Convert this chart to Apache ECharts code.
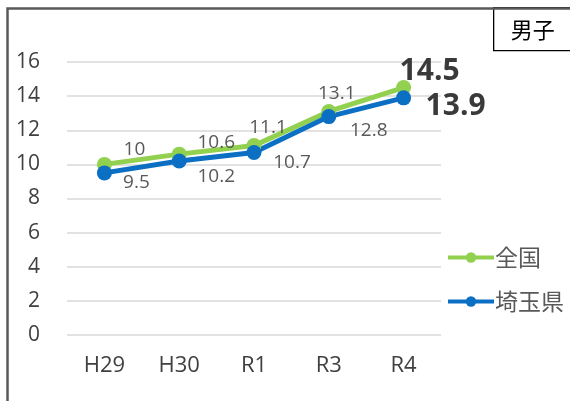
<!DOCTYPE html>
<html>
<head>
<meta charset="utf-8">
<script src="https://cdn.jsdelivr.net/npm/echarts@6/dist/echarts.min.js"></script>
<style>html,body{margin:0;padding:0;background:#fff;}#c{width:570px;height:401px;}</style>
</head>
<body>
<div id="c"></div>
<script>
const categories = ['H29', 'H30', 'R1', 'R3', 'R4'];
const nationalValues = [10, 10.6, 11.1, 13.1, 14.5];
const saitamaValues = [9.5, 10.2, 10.7, 12.8, 13.9];
const seriesNames = ['全国', '埼玉県'];
const yTicks = { min: 0, max: 16, interval: 2 };
const boxTitle = '男子';

// label placement (style only)
const nationalOffsets = [[30, -15], [37, -12], [14, -18], [8, -18], [26, -16]];
const saitamaOffsets = [[32, 10], [37, 16], [38, 10], [40, 14], [52, 9]];

const font = '"Open Sans", "Noto Sans", sans-serif';
const cjk = '"Noto Sans CJK JP", sans-serif';

function buildData(values, offsets) {
  const last = values.length - 1;
  return values.map((v, i) => ({
    value: v,
    label: i === last ? {
      offset: offsets[i], fontSize: 30, fontWeight: 'bold', color: '#3a3a3a'
    } : { offset: offsets[i] }
  }));
}

const chart = echarts.init(document.getElementById('c'), null, { renderer: 'canvas' });
chart.setOption({
  animation: false,
  backgroundColor: '#fff',
  grid: { left: 67, right: 129, top: 62, bottom: 66, containLabel: false },
  xAxis: {
    type: 'category',
    data: categories,
    boundaryGap: true,
    axisLine: { show: false },
    axisTick: { show: false },
    axisLabel: { fontSize: 22, color: '#404040', fontFamily: font, margin: 20 }
  },
  yAxis: {
    type: 'value',
    min: yTicks.min, max: yTicks.max, interval: yTicks.interval,
    axisLine: { show: false },
    axisTick: { show: false },
    axisLabel: { fontSize: 21, color: '#404040', fontFamily: font, margin: 27 },
    splitLine: { lineStyle: { color: '#d9d9d9', width: 1.5 } }
  },
  legend: {
    orient: 'vertical',
    left: 441, top: 241,
    itemWidth: 46, itemHeight: 13, itemGap: 21,
    lineStyle: { width: 4 },
    textStyle: { fontSize: 23, color: '#595959', fontFamily: cjk, padding: [0, 0, 0, -4] },
    data: seriesNames
  },
  series: [
    {
      name: seriesNames[0], type: 'line',
      data: buildData(nationalValues, nationalOffsets),
      symbol: 'circle', symbolSize: 15,
      lineStyle: { color: '#92D050', width: 5 },
      itemStyle: { color: '#92D050' },
      label: { show: true, position: 'inside', fontSize: 19, color: '#595959', fontFamily: font }
    },
    {
      name: seriesNames[1], type: 'line',
      data: buildData(saitamaValues, saitamaOffsets),
      symbol: 'circle', symbolSize: 15,
      lineStyle: { color: '#0B6FC4', width: 5 },
      itemStyle: { color: '#0B6FC4' },
      label: { show: true, position: 'inside', fontSize: 19, color: '#595959', fontFamily: font }
    }
  ],
  graphic: [
    { type: 'rect', left: 5, top: 6, shape: { x: 0, y: 0, width: 620, height: 460 },
      style: { fill: 'none', stroke: '#595959', lineWidth: 2.5 }, z: 100 },
    { type: 'group', left: 493, top: 7, z: 101, children: [
      { type: 'rect', shape: { x: 0, y: 0, width: 100, height: 43 },
        style: { fill: '#fff', stroke: '#000', lineWidth: 1.3 } },
      { type: 'text', x: 39, y: 22,
        style: { text: boxTitle, fontSize: 22, fill: '#000', fontFamily: cjk,
                 textAlign: 'center', textVerticalAlign: 'middle' } }
    ] }
  ]
});
</script>
</body>
</html>
